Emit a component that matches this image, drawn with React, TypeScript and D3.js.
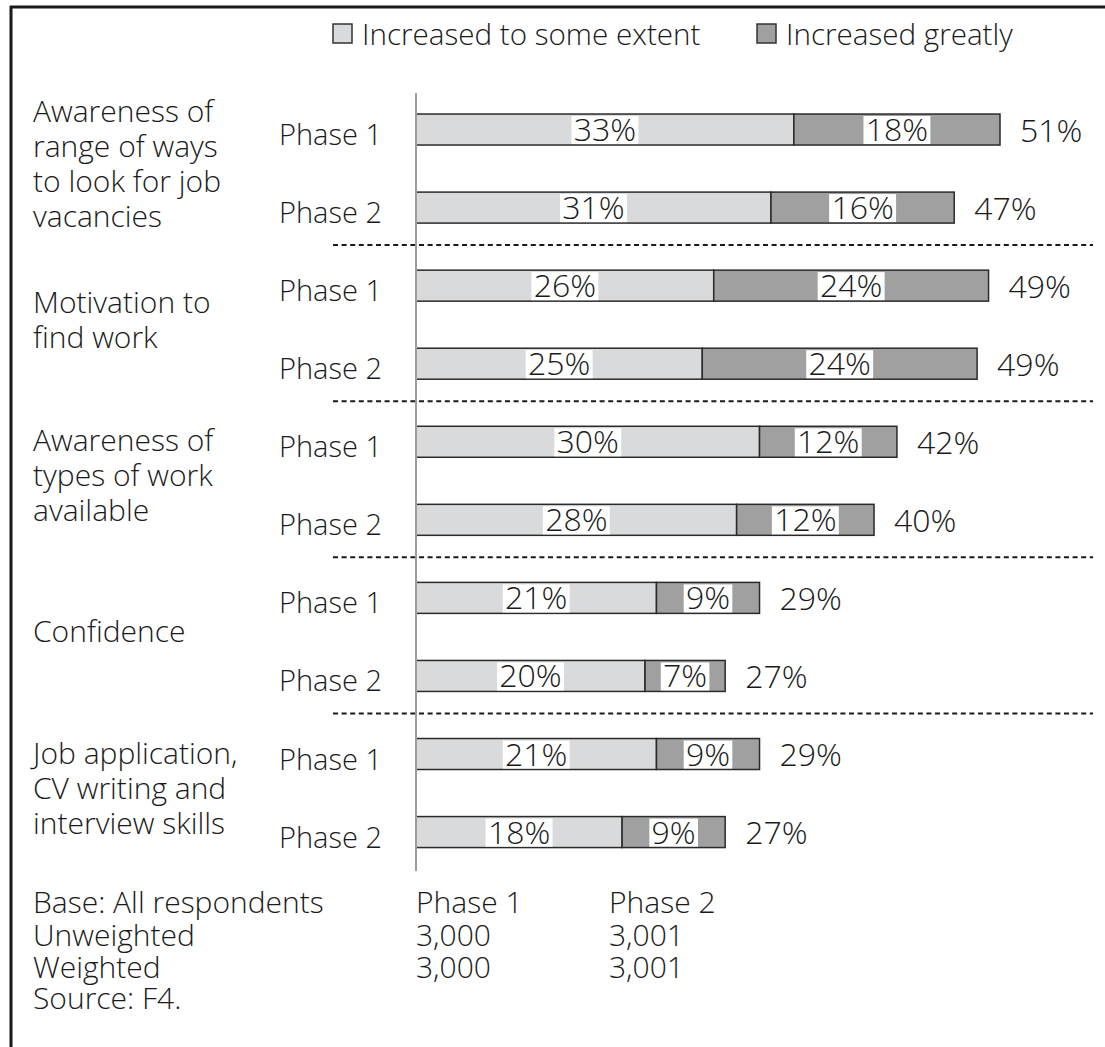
import React from "react";
import * as d3 from "d3";

const categoryLines: string[][] = [
  ["Awareness of", "range of ways", "to look for job", "vacancies"],
  ["Motivation to", "find work"],
  ["Awareness of", "types of work", "available"],
  ["Confidence"],
  ["Job application,", "CV writing and", "interview skills"],
];
const phases = ["Phase 1", "Phase 2"];
const someExtent = [33, 31, 26, 25, 30, 28, 21, 20, 21, 18];
const greatly = [18, 16, 24, 24, 12, 12, 9, 7, 9, 9];
const totals = [51, 47, 49, 49, 42, 40, 29, 27, 29, 27];
const seriesNames = ["Increased to some extent", "Increased greatly"];
const baseHeader = ["Base: All respondents", "Phase 1", "Phase 2"];
const baseRows = [
  ["Unweighted", "3,000", "3,001"],
  ["Weighted", "3,000", "3,001"],
];
const sourceText = "Source: F4.";

const FONT = "'Open Sans', 'Noto Sans', sans-serif";
const INK = "#1a1a1a";
const LIGHT = "#d9dadb";
const DARK = "#a0a0a1";

function textWidth(s: string, size: number) {
  let w = 0;
  for (const ch of s) w += ch === "%" ? 0.823 : 0.572;
  return w * size;
}

export default function App() {
  const W = 1105, H = 1047;
  const rows = d3.range(someExtent.length);
  const x = d3.scaleLinear().domain([0, 51]).range([416, 1000]);
  const y = d3
    .scaleBand<number>()
    .domain(rows)
    .range([90.5, 871.1])
    .paddingInner(0.603)
    .paddingOuter(0.3015);
  const bw = y.bandwidth();
  const step = y.step();
  const nGroups = categoryLines.length;

  const valFont = 32;
  const lblFont = 29;
  const catFont = 30;
  const lineH = 35;

  return (
    <svg
      width={W}
      height={H}
      style={{ position: "absolute", left: 0, top: 0, background: "#fff" }}
      fontFamily={FONT}
      fontWeight={300}
    >
      <rect x={0} y={0} width={W} height={H} fill="#fff" />
      {/* frame */}
      <line x1={10} x2={W} y1={7} y2={7} stroke={INK} strokeWidth={3} />
      <line x1={11} x2={11} y1={6} y2={H} stroke={INK} strokeWidth={3} />

      {/* legend */}
      {seriesNames.map((name, i) => {
        const lx = i === 0 ? 333 : 757;
        return (
          <g key={name}>
            <rect x={lx} y={24} width={19} height={19} fill={i === 0 ? LIGHT : DARK} stroke="#333" strokeWidth={1.5} />
            <text x={lx + 29} y={45} fontSize={29.6} fill={INK}>
              {name}
            </text>
          </g>
        );
      })}

      {/* separators */}
      {d3.range(nGroups - 1).map((g) => {
        const yy = (y(g * 2 + 1) as number) + bw + (step - bw) / 2 - 1.5;
        return (
          <line key={g} x1={333} x2={1093} y1={yy} y2={yy} stroke={INK} strokeWidth={2} strokeDasharray="5,3.6" />
        );
      })}

      {/* category labels */}
      {categoryLines.map((lines, g) => {
        const c = ((y(g * 2) as number) + (y(g * 2 + 1) as number) + bw) / 2 - 5;
        const first = c - ((lines.length - 1) * lineH) / 2 + 10.5;
        return (
          <text key={g} x={33} fontSize={catFont} fill={INK}>
            {lines.map((l, k) => (
              <tspan key={k} x={33} y={first + k * lineH}>
                {l}
              </tspan>
            ))}
          </text>
        );
      })}

      {/* bars */}
      {rows.map((r) => {
        const y0 = y(r) as number;
        const cy = y0 + bw / 2;
        const a = someExtent[r];
        const b = greatly[r];
        const la = `${a}%`, lb = `${b}%`;
        const wa = textWidth(la, valFont) + 4;
        const wb = textWidth(lb, valFont) + 4;
        const ca = (x(0) + x(a)) / 2;
        const cb = (x(a) + x(a + b)) / 2;
        return (
          <g key={r}>
            <text x={382} y={cy + 15.5} fontSize={lblFont} textAnchor="end" fill={INK}>
              {phases[r % 2]}
            </text>
            <rect x={x(0)} y={y0} width={x(a) - x(0)} height={bw} fill={LIGHT} stroke="#2a2a2a" strokeWidth={1.5} />
            <rect x={x(a)} y={y0} width={x(a + b) - x(a)} height={bw} fill={DARK} stroke="#2a2a2a" strokeWidth={1.5} />
            <rect x={ca - wa / 2} y={cy - 13.5} width={wa} height={28} fill="#fff" />
            <text x={ca} y={cy + 11.5} fontSize={valFont} textAnchor="middle" fill={INK}>
              {la}
            </text>
            <rect x={cb - wb / 2} y={cy - 13.5} width={wb} height={28} fill="#fff" />
            <text x={cb} y={cy + 11.5} fontSize={valFont} textAnchor="middle" fill={INK}>
              {lb}
            </text>
            <text x={x(a + b) + 20} y={cy + 12} fontSize={valFont} fill={INK}>
              {`${totals[r]}%`}
            </text>
          </g>
        );
      })}

      {/* axis line */}
      <line x1={x(0)} x2={x(0)} y1={93} y2={871} stroke="#a49b94" strokeWidth={2} />

      {/* base table */}
      {[baseHeader, ...baseRows].map((row, i) => (
        <g key={i}>
          {row.map((cell, j) => (
            <text key={j} x={[33, 416, 609][j]} y={913 + i * 32.5} fontSize={catFont} fill={INK}>
              {cell}
            </text>
          ))}
        </g>
      ))}
      <text x={33} y={1009} fontSize={catFont} fill={INK}>
        {sourceText}
      </text>
    </svg>
  );
}
